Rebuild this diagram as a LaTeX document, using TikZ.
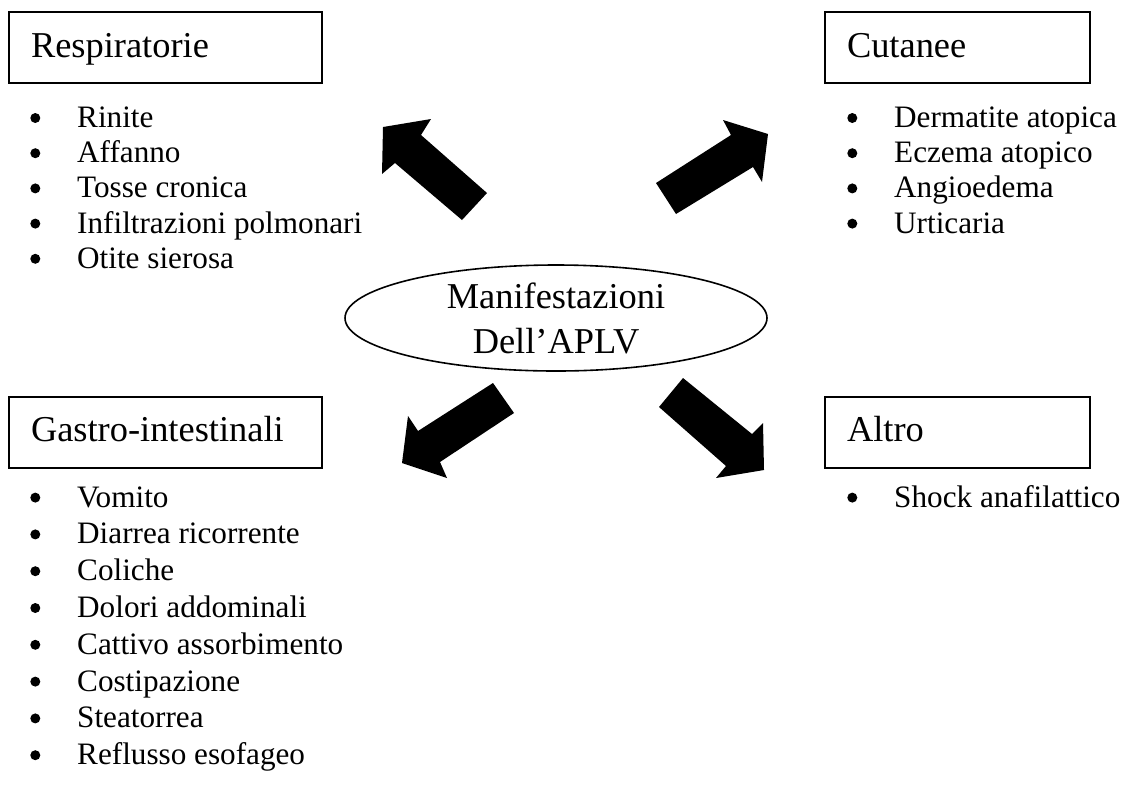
\documentclass[tikz,border=0pt]{standalone}
\usepackage{fontspec}
\setmainfont{Liberation Serif}
\usetikzlibrary{shapes.geometric}
\begin{document}
\begin{tikzpicture}[x=1pt,y=-1pt,
  hdrbox/.style={draw, line width=2pt, rectangle, anchor=north west,
    minimum height=71pt, inner xsep=22pt, inner ysep=0pt, align=left,
    text height=26pt, text depth=7pt,
    font=\fontsize{36.4pt}{42pt}\selectfont},
  listitem/.style={anchor=base west, inner sep=0pt,
    font=\fontsize{31.2pt}{36pt}\selectfont},
  bulletdot/.style={fill=black},
  blockarrow/.style={fill=black},
  centre/.style={ellipse, draw, line width=1.6pt, minimum width=422pt,
    minimum height=106pt, align=center, inner sep=0pt,
    font=\fontsize{36.4pt}{45pt}\selectfont}
]
\useasboundingbox (0,0) rectangle (1126,785);

% header boxes
\node[hdrbox, text width=269pt] (resp) at (8,11) {Respiratorie};
\node[hdrbox, text width=221pt] (cut) at (824,11) {Cutanee};
\node[hdrbox, text width=269pt] (gastro) at (8,395.5) {Gastro-intestinali};
\node[hdrbox, text width=221pt] (altro) at (824,395.5) {Altro};

% centre ellipse
\node[centre] (c) at (556,318) {Manifestazioni\\Dell’APLV};

% lists
\foreach \t [count=\i] in {Rinite, Affanno, Tosse cronica, Infiltrazioni polmonari, Otite sierosa}{
  \node[listitem] (resp-\i) at (77,{127.4+35.2*(\i-1)}) {\t};
  \fill[bulletdot] (35.3,{118+35.2*(\i-1)}) circle (5pt);
}
\foreach \t [count=\i] in {Dermatite atopica, Eczema atopico, Angioedema, Urticaria}{
  \node[listitem] (cut-\i) at (894,{127.4+35.2*(\i-1)}) {\t};
  \fill[bulletdot] (852.3,{118+35.2*(\i-1)}) circle (5pt);
}
\foreach \t [count=\i] in {Vomito, Diarrea ricorrente, Coliche, Dolori addominali, Cattivo assorbimento, Costipazione, Steatorrea, Reflusso esofageo}{
  \node[listitem] (gastro-\i) at (77,{507+36.8*(\i-1)}) {\t};
  \fill[bulletdot] (35.3,{497.6+36.8*(\i-1)}) circle (5pt);
}
\foreach \t [count=\i] in {Shock anafilattico}{
  \node[listitem] (altro-\i) at (894,{507+36.8*(\i-1)}) {\t};
  \fill[bulletdot] (852.3,{497.6+36.8*(\i-1)}) circle (5pt);
}

% block arrows
\fill[blockarrow] (383,127) -- (431,119) -- (421,135) -- (487,193) -- (462,220) -- (395,163) -- (382,174) -- cycle;
\fill[blockarrow] (768,134) -- (723,120) -- (731,135) -- (656,183) -- (676,214) -- (753,167) -- (762,182) -- cycle;
\fill[blockarrow] (402,463) -- (408,416) -- (418,431) -- (493,383) -- (514,413) -- (440,462) -- (447,478) -- cycle;
\fill[blockarrow] (764,470) -- (763,423) -- (752,434) -- (683,378) -- (659,407) -- (726,466) -- (716,478) -- cycle;
\end{tikzpicture}
\end{document}
